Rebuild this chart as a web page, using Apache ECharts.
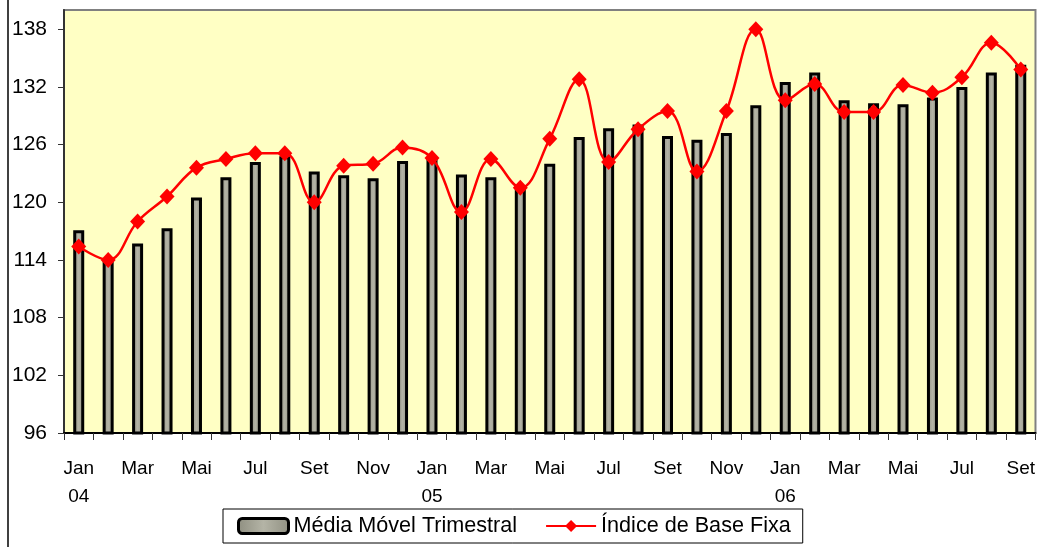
<!DOCTYPE html>
<html>
<head>
<meta charset="utf-8">
<script src="https://cdn.jsdelivr.net/npm/echarts@6/dist/echarts.min.js"></script>
<style>
  html, body { margin: 0; padding: 0; background: #ffffff; }
  #chart { width: 1038px; height: 547px; }
</style>
</head>
<body>
<div id="chart"></div>
<script>
const categories = [
  'Jan\n04','Fev','Mar','Abr','Mai','Jun','Jul','Ago','Set','Out','Nov','Dez',
  'Jan\n05','Fev','Mar','Abr','Mai','Jun','Jul','Ago','Set','Out','Nov','Dez',
  'Jan\n06','Fev','Mar','Abr','Mai','Jun','Jul','Ago','Set'
];
const mediaMovel = [
  117.1, 114.2, 115.7, 117.3, 120.5, 122.6, 124.2, 124.8, 123.2, 122.8, 122.5, 124.3,
  124.7, 122.9, 122.6, 121.7, 124.0, 126.8, 127.7, 128.1, 126.9, 126.5, 127.2, 130.1,
  132.5, 133.5, 130.6, 130.3, 130.2, 130.9, 132.0, 133.5, 134.3
];
const indiceBaseFixa = [
  115.4, 114.0, 118.0, 120.6, 123.6, 124.5, 125.1, 125.1, 120.0, 123.8, 124.0, 125.7,
  124.6, 119.0, 124.5, 121.5, 126.6, 132.8, 124.2, 127.6, 129.5, 123.2, 129.5, 138.0,
  130.6, 132.3, 129.4, 129.4, 132.2, 131.4, 133.0, 136.6, 133.8
];
const yTicks = [96, 102, 108, 114, 120, 126, 132, 138];

const FONT = 'Liberation Sans, Arial, sans-serif';
const barFill = {
  type: 'linear', x: 0, y: 0, x2: 1, y2: 0,
  colorStops: [
    { offset: 0, color: '#8e8e80' },
    { offset: 0.5, color: '#b4b4a6' },
    { offset: 1, color: '#909082' }
  ]
};

const chart = echarts.init(document.getElementById('chart'), null, { renderer: 'canvas' });
chart.setOption({
  animation: false,
  backgroundColor: '#ffffff',
  textStyle: { fontFamily: FONT },
  grid: {
    left: 64, right: 1, top: 10, bottom: 114,
    show: true,
    backgroundColor: '#FFFFC4',
    borderColor: '#808080',
    borderWidth: 2
  },
  legend: {
    left: 223, top: 509,
    padding: [6, 12, 6, 14],
    width: 580,
    borderColor: '#000',
    borderWidth: 1,
    backgroundColor: '#fff',
    itemWidth: 50,
    itemHeight: 15,
    itemGap: 28,
    textStyle: { fontFamily: FONT, fontSize: 21.6, color: '#000' },
    data: [
      { name: 'Média Móvel Trimestral', icon: 'roundRect',
        itemStyle: { color: barFill, borderColor: '#000', borderWidth: 3 } },
      { name: 'Índice de Base Fixa' }
    ]
  },
  xAxis: {
    type: 'category',
    data: categories,
    boundaryGap: true,
    axisLine: { show: true, lineStyle: { color: '#000', width: 2 } },
    axisTick: { show: true, interval: 0, length: 7, lineStyle: { color: '#333', width: 1 } },
    axisLabel: {
      interval: 1,
      margin: 22,
      fontFamily: FONT,
      fontSize: 19,
      lineHeight: 28,
      color: '#000'
    },
    splitLine: { show: false }
  },
  yAxis: {
    type: 'value',
    min: 96, max: 140, interval: 6,
    axisLine: { show: true, lineStyle: { color: '#333', width: 2 } },
    axisTick: { show: true, length: 6, customValues: yTicks, lineStyle: { color: '#333', width: 1 } },
    axisLabel: {
      customValues: yTicks,
      margin: 17,
      fontFamily: FONT,
      fontSize: 21,
      color: '#000',
      padding: [6, 0, 0, 0]
    },
    splitLine: { show: false }
  },
  series: [
    {
      name: 'Média Móvel Trimestral',
      type: 'bar',
      data: mediaMovel,
      barWidth: 11,
      itemStyle: { color: barFill, borderColor: '#000', borderWidth: 3 },
      z: 2
    },
    {
      name: 'Índice de Base Fixa',
      type: 'line',
      data: indiceBaseFixa,
      smooth: 0.4,
      symbol: 'diamond',
      symbolSize: [15, 16],
      lineStyle: { color: '#ff0000', width: 2.5 },
      itemStyle: { color: '#ff0000' },
      z: 3
    }
  ],
  graphic: [
    { type: 'line', shape: { x1: 8, y1: 0, x2: 8, y2: 547 },
      style: { stroke: '#404040', lineWidth: 2 }, silent: true }
  ]
});
</script>
</body>
</html>
